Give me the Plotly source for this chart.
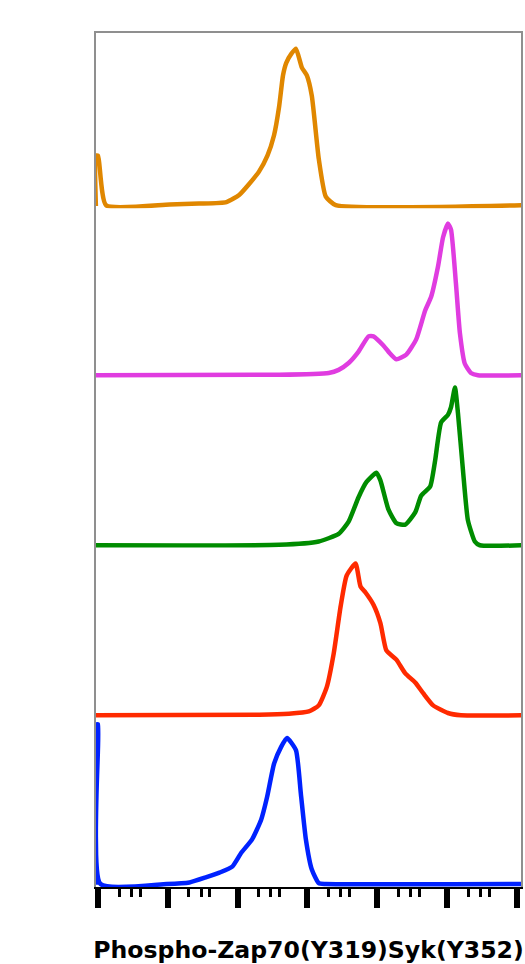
"""
Stacked flow cytometry histograms: Phospho-Zap70(Y319)Syk(Y352)
Five samples, one per band, on a shared log intensity axis.
"""

import plotly.graph_objects as go
from plotly.subplots import make_subplots

# ── data: intensity (x) and % of max (y) ──────────────────────────────────
ORANGE_X = [0.93, 0.93, 1.0, 1.3, 10.6, 28, 69, 105, 146, 203, 267, 332, 392, 446, 497,
            593, 684, 832, 980, 1155, 1452, 1830, 2540, 1.2e6]
ORANGE_Y = [0, 32, 32, 0.5, 1, 1.5, 2.5, 7, 14, 22, 32, 45, 63, 83, 91,
            97, 100, 88, 83, 70, 30, 6, 0.5, 0.5]

MAGENTA_X = [0.8, 392, 2018, 2800, 3890, 5400, 7500, 8830, 12250, 14450, 18780, 26070,
             36150, 48600, 59200, 74400, 87700, 103000, 114000, 134000, 153000,
             180000, 220000, 277000, 1.2e6]
MAGENTA_Y = [0.5, 0.8, 2, 4, 8.5, 16, 26, 26, 20, 16, 11, 14,
             24, 43, 52, 72, 91, 100, 96, 61, 28,
             8, 2, 0.5, 0.5]

GREEN_X = [0.8, 392, 1452, 2800, 3890, 5400, 7020, 9740, 11100, 14450, 18780, 25200,
           35000, 42600, 57300, 67500, 82200, 103000, 114000, 130000, 143500,
           169000, 199000, 250000, 295000, 1.2e6]
GREEN_Y = [0.5, 0.8, 3, 8, 16, 32, 42, 48, 43, 24, 15, 14,
           22, 33, 39, 56, 81, 86, 91, 104, 87,
           50, 17, 3, 0.5, 0.5]

RED_X = [0.8, 203, 543, 1047, 1452, 1890, 2377, 2990, 3640, 4890, 5760, 6790,
         8830, 11100, 13520, 18780, 25200, 35000, 45500, 63200, 103000, 158000, 1.2e6]
RED_Y = [0.5, 0.8, 1.5, 3, 7, 19, 41, 72, 92, 100, 85, 81,
         73, 61, 43, 37, 28, 22, 15, 7, 2, 0.5, 0.5]

BLUE_X = [0.95, 0.95, 1.0, 1.08, 9.6, 20.4, 35.7, 54.7, 83.7, 112, 161, 217, 264,
          332, 418, 509, 684, 805, 949, 1155, 1452, 1830, 1.2e6]
BLUE_Y = [0, 106, 106, 0.5, 0.5, 1.5, 5, 8, 12, 21, 30, 43, 58,
          80, 91, 97, 89, 60, 30, 10, 1, 0.5, 0.5]

# top band first
SERIES = [
    ("orange",  ORANGE_X,  ORANGE_Y,  "#E08700"),
    ("magenta", MAGENTA_X, MAGENTA_Y, "#E03CE0"),
    ("green",   GREEN_X,   GREEN_Y,   "#008C00"),
    ("red",     RED_X,     RED_Y,     "#FF2A00"),
    ("blue",    BLUE_X,    BLUE_Y,    "#0022FF"),
]

# ── tick positions ────────────────────────────────────────────────────────
DECADES = [1, 10, 100, 1e3, 1e4, 1e5, 1e6]
SHORT_MINOR = [2, 3, 4]
LONG_MINOR = [5, 6, 7, 8, 9]
short_ticks = [m * d for d in DECADES[:-1] for m in SHORT_MINOR]
long_ticks = [m * d for d in DECADES[:-1] for m in LONG_MINOR]

X_LOG_RANGE = [-0.03, 6.06]
Y_RANGE = [-1.5, 110]
BAND_DOMAINS = [[0.7947, 1.0], [0.5957, 0.7947], [0.3966, 0.5957],
                [0.1975, 0.3966], [0.0, 0.1975]]

fig = make_subplots(rows=5, cols=1, shared_xaxes=True, vertical_spacing=0)

for row, (name, xs, ys, color) in enumerate(SERIES, start=1):
    fig.add_trace(
        go.Scatter(x=xs, y=ys, name=name, mode="lines",
                   line=dict(color=color, width=4.5, shape="spline", smoothing=0.5),
                   hoverinfo="skip", showlegend=False),
        row=row, col=1,
    )

fig.update_xaxes(type="log", range=X_LOG_RANGE, showgrid=False, zeroline=False,
                 showticklabels=False, ticks="", showline=False)
fig.update_yaxes(range=Y_RANGE, showgrid=False, zeroline=False, showticklabels=False,
                 ticks="", showline=True, linecolor="#8f8f8f", linewidth=2, mirror=True)

for row, dom in enumerate(BAND_DOMAINS, start=1):
    fig.update_yaxes(domain=dom, row=row, col=1)

# top frame line
fig.update_layout(xaxis=dict(showline=True, side="top", linecolor="#8f8f8f", linewidth=2))

# bottom axis: majors + short minors
fig.update_layout(
    xaxis5=dict(
        showline=True, linecolor="black", linewidth=1.5,
        ticks="outside", tickmode="array", tickvals=DECADES,
        ticklen=19, tickwidth=5.5, tickcolor="black",
        minor=dict(ticks="outside", tickmode="array", tickvals=short_ticks,
                   ticklen=8, tickwidth=2.5, tickcolor="black", showgrid=False),
        title=dict(text="Phospho-Zap70(Y319)Syk(Y352)", standoff=37,
                   font=dict(family="DejaVu Sans", size=23.6, color="black", weight="bold")),
    ),
    # longer minor ticks on an overlaid copy of the bottom axis
    xaxis6=dict(
        overlaying="x5", anchor="y5", type="log", range=X_LOG_RANGE,
        showgrid=False, zeroline=False, showticklabels=False, showline=False,
        ticks="outside", tickmode="array", tickvals=long_ticks,
        ticklen=14, tickwidth=3, tickcolor="black",
    ),
)

fig.update_layout(
    width=525, height=964,
    margin=dict(l=96, r=2, t=33, b=77),
    plot_bgcolor="white", paper_bgcolor="white",
    font=dict(family="DejaVu Sans", color="black"),
    showlegend=False,
)

# drop the browser's default 8px body margin so the figure fills the window
fig.write_html("out.html",
               config={"displayModeBar": False},
               post_script="document.body.style.margin='0';document.body.style.overflow='hidden';")
